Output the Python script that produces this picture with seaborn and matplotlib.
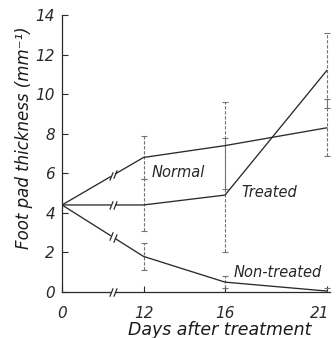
import numpy as np
import pandas as pd
import matplotlib
matplotlib.use("Agg")
import matplotlib.pyplot as plt
import matplotlib.transforms as mtransforms
import seaborn as sns

# values (mean and error bar half-width)
days = [0, 12, 16, 21]
normal = [4.4, 6.8, 7.4, 8.3]
normal_err = [0, 1.1, 2.2, 1.45]
treated = [4.4, 4.4, 4.9, 11.2]
treated_err = [0, 1.3, 2.9, 1.9]
nontreated = [4.4, 1.8, 0.5, 0.05]
nontreated_err = [0, 0.7, 0.3, 0.15]
group_names = ["Normal", "Treated", "Non-treated"]
xtick_vals = [0, 12, 16, 21]
ytick_vals = [0, 2, 4, 6, 8, 10, 12, 14]
break_day = 7.5


def fwd(x):
    # broken axis: 0..12 squeezed into 8..12
    x = np.asarray(x, dtype=float)
    return np.where(x < 12, 8 + x / 3.0, x)


def inv(y):
    y = np.asarray(y, dtype=float)
    return np.where(y < 12, (y - 8) * 3.0, y)


sns.set_style("ticks")
plt.rcParams["font.family"] = ["DejaVu Sans"]
plt.rcParams["font.style"] = "italic"

rows = []
for name, vals in zip(group_names, [normal, treated, nontreated]):
    for d, v in zip(days, vals):
        rows.append({"day": d, "value": v, "group": name})
df = pd.DataFrame(rows)

fig = plt.figure(figsize=(3.36, 3.38), dpi=100)
ax = fig.add_axes([0.1845, 0.136, 0.7975, 0.8196])
ax.set_xscale("function", functions=(fwd, inv))

sns.lineplot(data=df, x="day", y="value", units="group", estimator=None,
             color="#2a2a2a", linewidth=0.95, legend=False, ax=ax, zorder=2)

# error bars only at the measured days after 0
for vals, errs in [(normal, normal_err), (treated, treated_err),
                   (nontreated, nontreated_err)]:
    eb = ax.errorbar(days[1:], vals[1:], yerr=errs[1:], fmt="none",
                     ecolor="0.45", elinewidth=0.8, capsize=2.5,
                     capthick=0.8, zorder=1)
    eb[2][0].set_linestyle((0, (3, 1.5)))

# break marks on each line and on the x axis
slash = [(-0.6, -1.5), (0.6, 1.5)]
for vals in [normal, treated, nontreated, [0, 0, 0, 0]]:
    y1 = np.interp(break_day - 0.3, days, vals)
    y2 = np.interp(break_day + 0.3, days, vals)
    ax.plot([break_day - 0.3, break_day + 0.3], [y1, y2], color="white",
            lw=3, zorder=3, clip_on=False, solid_capstyle="butt")
    ax.plot([break_day - 0.3, break_day + 0.3], [y1, y2], ls="none",
            marker=slash, ms=6, mec="#2a2a2a", mew=0.9, zorder=4,
            clip_on=False)

ax.text(12.4, 6.05, "Normal", fontsize=10.5, va="center", ha="left")
ax.text(16.8, 5.05, "Treated", fontsize=10.5, va="center", ha="left")
ax.text(16.4, 1.0, "Non-treated", fontsize=10.5, va="center", ha="left")

ax.set_xlim(0, 21.15)
ax.set_ylim(0, 14)
ax.set_xticks(xtick_vals)
ax.set_xticklabels([str(v) for v in xtick_vals])
ax.set_yticks(ytick_vals)
ax.set_yticklabels([str(v) for v in ytick_vals])
ax.minorticks_off()
ax.tick_params(axis="both", direction="in", length=4, width=0.8,
               colors="#2a2a2a", labelsize=11)
ax.tick_params(axis="x", pad=10)
ax.tick_params(axis="y", pad=5)
sns.despine(ax=ax)
for s in ["left", "bottom"]:
    ax.spines[s].set_linewidth(0.9)
    ax.spines[s].set_color("#2a2a2a")

# last x label sits a little left so it stays inside the picture
last = ax.get_xticklabels()[-1]
last.set_transform(last.get_transform() +
                   mtransforms.ScaledTranslation(-5 / 72, 0, fig.dpi_scale_trans))

ax.set_xlabel("Days after treatment", fontsize=12.5, color="#1a1a1a")
ax.set_ylabel("Foot pad thickness (mm⁻¹)", fontsize=12, color="#1a1a1a")
ax.xaxis.set_label_coords(0.588, -0.105)
ax.yaxis.set_label_coords(-0.11, 0.556)

fig.savefig("out.png", dpi=100)
